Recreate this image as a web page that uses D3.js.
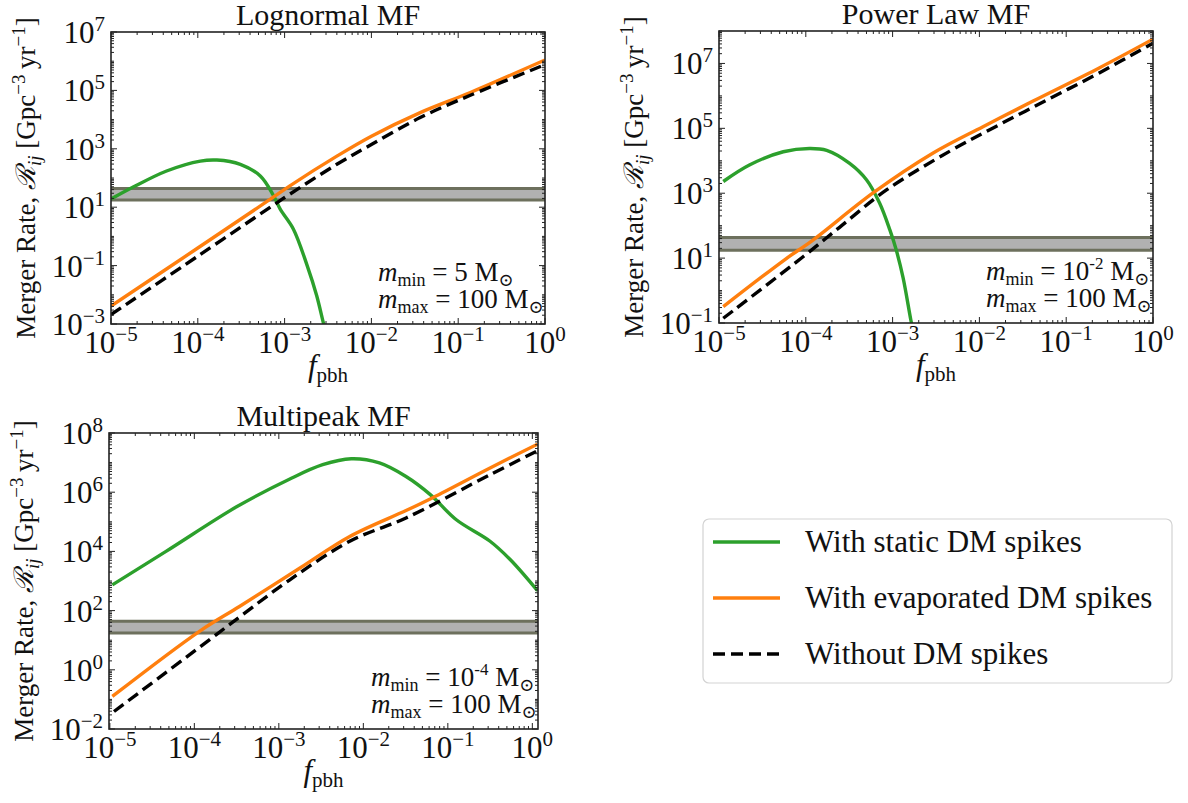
<!DOCTYPE html>
<html>
<head>
<meta charset="utf-8">
<script src="https://cdn.jsdelivr.net/npm/d3@7"></script>
<style>
  body { margin: 0; background: #fff; }
  svg { display: block; }
</style>
</head>
<body>
<div id="chart"></div>
<script>
// ---- data ----
// band of the observed merger rate (same in every panel)
var bandRange = [17.5, 43.5];

// Lognormal MF
var lognormalGreenF = [1e-5, 1.78e-5, 4.37e-5, 1.07e-4, 1.66e-4, 3.09e-4, 5.25e-4, 7.4e-4, 8.9e-4, 1.26e-3, 1.82e-3, 2.34e-3, 2.82e-3, 3.2e-3];
var lognormalGreenR = [19, 48, 174, 380, 412, 295, 117, 26, 8.6, 1.8, 0.1, 9.5e-3, 1e-3, 2.5e-4];
var lognormalLineF = [1e-5, 1e-4, 7.4e-4, 1.15e-3, 4.0e-3, 1e-2, 3.6e-2, 0.138, 1];
var lognormalOrangeR = [4.1e-3, 0.40, 22, 54, 560, 2700, 1.7e4, 8.5e4, 1.1e6];
var lognormalBlackR = [2.1e-3, 0.21, 11.7, 28, 295, 1400, 1.15e4, 6.8e4, 7.6e5];

// Power Law MF
var powerGreenF = [1.12e-5, 2.24e-5, 5.5e-5, 1.1e-4, 1.74e-4, 3.2e-4, 5.0e-4, 7.1e-4, 9.3e-4, 1.1e-3, 1.32e-3, 1.62e-3, 1.74e-3];
var powerGreenR = [2300, 7400, 1.9e4, 2.4e4, 2.1e4, 8300, 2600, 490, 74, 18, 2.5, 0.126, 0.05];
var powerOrangeF = [1.12e-5, 5.7e-5, 1.21e-4, 5.9e-4, 2.9e-3, 1.1e-2, 4.1e-2, 0.243, 1];
var powerOrangeR = [0.32, 8.9, 36, 1000, 1.7e4, 1.12e5, 6.8e5, 7.4e6, 5.6e7];
var powerBlackF = [1.12e-5, 9.3e-5, 2.45e-4, 8.5e-4, 4.6e-3, 1.7e-2, 6.5e-2, 0.243, 1];
var powerBlackR = [0.14, 11, 89, 1260, 2.0e4, 1.3e5, 8.3e5, 5.2e6, 4.2e7];

// Multipeak MF
var multiGreenF = [1.07e-5, 4.57e-5, 3.16e-4, 1.35e-3, 3.3e-3, 7.2e-3, 1.55e-2, 3.2e-2, 6.2e-2, 0.126, 0.316, 0.55, 1.15];
var multiGreenR = [740, 9800, 3.2e5, 2.8e6, 8.5e6, 1.35e7, 9.8e6, 3.4e6, 8.3e5, 1.17e5, 2.2e4, 5200, 470];
var multiOrangeF = [1.07e-5, 1.15e-4, 3.42e-4, 1.78e-3, 6.9e-3, 3.2e-2, 6.8e-2, 0.316, 1.15];
var multiOrangeR = [0.126, 20, 138, 2750, 3.2e4, 2.4e5, 6.8e5, 6.6e6, 4.2e7];
var multiBlackF = [1.12e-5, 1.82e-4, 3.7e-4, 1.35e-3, 6.9e-3, 3.2e-2, 0.316, 1.15];
var multiBlackR = [0.039, 15.5, 72, 1100, 2.2e4, 1.35e5, 3.9e6, 2.5e7];

// tick exponents
var xTickExp = [-5, -4, -3, -2, -1, 0];
var lognormalYTickExp = [-3, -1, 1, 3, 5, 7];
var powerYTickExp = [-1, 1, 3, 5, 7];
var multiYTickExp = [-2, 0, 2, 4, 6, 8];

var legendLabels = ["With static DM spikes", "With evaporated DM spikes", "Without DM spikes"];

// ---- drawing ----
var font = "'Liberation Serif', 'DejaVu Serif', serif";
var green = "#2ca02c", orange = "#ff7f0e";

var svg = d3.select("#chart").append("svg")
  .attr("width", 1188)
  .attr("height", 803)
  .style("font-family", font);

function zip(xs, ys) {
  return xs.map(function(x, i) { return [x, ys[i]]; });
}

function expText(sel, e) {
  // "10" with a raised exponent
  sel.append("tspan").text("10");
  sel.append("tspan").attr("font-size", 21).attr("dy", -12)
    .text(e < 0 ? "\u2212" + (-e) : String(e));
}

var panels = [
  {id: "p1", title: "Lognormal MF", left: 111, top: 32, width: 434, height: 292,
   xDomain: [1e-5, 1], yDomain: [1e-3, 1e7], yTicks: lognormalYTickExp, mmin: ["5"],
   series: [
     {data: zip(lognormalGreenF, lognormalGreenR), color: green},
     {data: zip(lognormalLineF, lognormalOrangeR), color: orange},
     {data: zip(lognormalLineF, lognormalBlackR), color: "#000", dash: "12,6"}
   ]},
  {id: "p2", title: "Power Law MF", left: 719, top: 31, width: 434, height: 292,
   xDomain: [1e-5, 1], yDomain: [1e-1, 1e8], yTicks: powerYTickExp, mmin: ["10", "-2"],
   series: [
     {data: zip(powerGreenF, powerGreenR), color: green},
     {data: zip(powerOrangeF, powerOrangeR), color: orange},
     {data: zip(powerBlackF, powerBlackR), color: "#000", dash: "12,6"}
   ]},
  {id: "p3", title: "Multipeak MF", left: 109, top: 433, width: 429, height: 296,
   xDomain: [Math.pow(10, -5.01), Math.pow(10, 0.067)], yDomain: [1e-2, 1e8], yTicks: multiYTickExp, mmin: ["10", "-4"],
   series: [
     {data: zip(multiGreenF, multiGreenR), color: green},
     {data: zip(multiOrangeF, multiOrangeR), color: orange},
     {data: zip(multiBlackF, multiBlackR), color: "#000", dash: "12,6"}
   ]}
];

panels.forEach(function(p) {
  var g = svg.append("g").attr("transform", "translate(" + p.left + "," + p.top + ")");
  var x = d3.scaleLog().domain(p.xDomain).range([0, p.width]);
  var y = d3.scaleLog().domain(p.yDomain).range([p.height, 0]);

  g.append("clipPath").attr("id", "clip-" + p.id)
    .append("rect").attr("width", p.width).attr("height", p.height);

  var plot = g.append("g").attr("clip-path", "url(#clip-" + p.id + ")");

  // observed-rate band
  plot.append("rect")
    .attr("x", 0).attr("width", p.width)
    .attr("y", y(bandRange[1])).attr("height", y(bandRange[0]) - y(bandRange[1]))
    .attr("fill", "#b1b1b1");
  bandRange.forEach(function(v) {
    plot.append("line")
      .attr("x1", 0).attr("x2", p.width)
      .attr("y1", y(v)).attr("y2", y(v))
      .attr("stroke", "#6d705d").attr("stroke-width", 3);
  });

  var line = d3.line()
    .x(function(d) { return x(d[0]); })
    .y(function(d) { return y(d[1]); })
    .curve(d3.curveCatmullRom.alpha(0.5));

  p.series.forEach(function(s) {
    plot.append("path")
      .attr("d", line(s.data))
      .attr("fill", "none")
      .attr("stroke", s.color)
      .attr("stroke-width", 3.4)
      .attr("stroke-dasharray", s.dash || null);
  });

  // ticks, pointing inward on all four sides
  var xMajor = xTickExp.map(function(e) { return Math.pow(10, e); });
  var xMinor = [];
  d3.range(-6, 1).forEach(function(e) {
    d3.range(2, 10).forEach(function(k) {
      var v = k * Math.pow(10, e);
      if (v >= p.xDomain[0] && v <= p.xDomain[1]) xMinor.push(v);
    });
  });
  var yMajor = p.yTicks.map(function(e) { return Math.pow(10, e); });
  var yMinor = [];
  d3.range(-3, 9).forEach(function(e) {
    d3.range(1, 10).forEach(function(k) {
      if (k === 1 && p.yTicks.indexOf(e) >= 0) return;
      var v = k * Math.pow(10, e);
      if (v >= p.yDomain[0] * 0.999 && v <= p.yDomain[1] * 1.001) yMinor.push(v);
    });
  });

  var tk = g.append("g").attr("stroke", "#222");
  function xt(vals, len) {
    vals.forEach(function(v) {
      var px = x(v);
      tk.append("line").attr("x1", px).attr("x2", px).attr("y1", p.height).attr("y2", p.height - len).attr("stroke-width", 1);
      tk.append("line").attr("x1", px).attr("x2", px).attr("y1", 0).attr("y2", len).attr("stroke-width", 1);
    });
  }
  function yt(vals, len) {
    vals.forEach(function(v) {
      var py = y(v);
      tk.append("line").attr("y1", py).attr("y2", py).attr("x1", 0).attr("x2", len).attr("stroke-width", 1);
      tk.append("line").attr("y1", py).attr("y2", py).attr("x1", p.width).attr("x2", p.width - len).attr("stroke-width", 1);
    });
  }
  xt(xMajor, 6); xt(xMinor, 3);
  yt(yMajor, 6); yt(yMinor, 3);

  g.append("rect")
    .attr("width", p.width).attr("height", p.height)
    .attr("fill", "none").attr("stroke", "#222").attr("stroke-width", 1.6);

  // tick labels
  xTickExp.forEach(function(e) {
    var t = g.append("text")
      .attr("x", x(Math.pow(10, e)))
      .attr("y", p.height + 29)
      .attr("text-anchor", "middle")
      .attr("font-size", 31)
      .attr("fill", "#111");
    expText(t, e);
  });
  p.yTicks.forEach(function(e) {
    var t = g.append("text")
      .attr("x", -6)
      .attr("y", y(Math.pow(10, e)) + 11)
      .attr("text-anchor", "end")
      .attr("font-size", 31)
      .attr("fill", "#111");
    expText(t, e);
  });

  // title
  g.append("text")
    .attr("x", p.width / 2).attr("y", -7)
    .attr("text-anchor", "middle")
    .attr("font-size", 30)
    .attr("fill", "#111")
    .text(p.title);

  // x label
  var xl = g.append("text")
    .attr("x", p.width / 2).attr("y", p.height + 52)
    .attr("text-anchor", "middle")
    .attr("font-size", 31)
    .attr("fill", "#111");
  xl.append("tspan").attr("font-style", "italic").text("f");
  xl.append("tspan").attr("font-size", 21).attr("dy", 6).text("pbh");

  // y label
  var yl = g.append("text")
    .attr("transform", "translate(-76," + (p.height / 2) + ") rotate(-90)")
    .attr("text-anchor", "middle")
    .attr("font-size", 27)
    .attr("fill", "#111");
  yl.append("tspan").text("Merger Rate, ");
  yl.append("tspan").attr("font-style", "italic").text("\u211B");
  yl.append("tspan").attr("font-style", "italic").attr("font-size", 19).attr("dy", 6).text("ij");
  yl.append("tspan").attr("dy", -6).text(" [Gpc");
  yl.append("tspan").attr("font-size", 19).attr("dy", -10).text("\u22123");
  yl.append("tspan").attr("dy", 10).text("\u2009yr");
  yl.append("tspan").attr("font-size", 19).attr("dy", -10).text("\u22121");
  yl.append("tspan").attr("dy", 10).text("]");

  // mass range note
  var ax = p.width - 167;
  var l1 = g.append("text").attr("x", ax).attr("y", p.height - 43)
    .attr("font-size", 27).attr("fill", "#111");
  l1.append("tspan").attr("font-style", "italic").text("m");
  l1.append("tspan").attr("font-size", 18).attr("dy", 5).text("min");
  if (p.mmin.length === 1) {
    l1.append("tspan").attr("dy", -5).text(" = " + p.mmin[0] + " M");
  } else {
    l1.append("tspan").attr("dy", -5).text(" = " + p.mmin[0]);
    l1.append("tspan").attr("font-size", 17).attr("dy", -11).text(p.mmin[1]);
    l1.append("tspan").attr("dy", 11).text(" M");
  }
  l1.append("tspan").attr("font-size", 18).attr("dy", 5).text("\u2299");

  var l2 = g.append("text").attr("x", ax).attr("y", p.height - 16)
    .attr("font-size", 27).attr("fill", "#111");
  l2.append("tspan").attr("font-style", "italic").text("m");
  l2.append("tspan").attr("font-size", 18).attr("dy", 5).text("max");
  l2.append("tspan").attr("dy", -5).text(" = 100 M");
  l2.append("tspan").attr("font-size", 18).attr("dy", 5).text("\u2299");
});

// legend
var lg = svg.append("g").attr("transform", "translate(703,519)");
lg.append("rect")
  .attr("width", 469).attr("height", 164).attr("rx", 6)
  .attr("fill", "#fff").attr("stroke", "#d3d3d3").attr("stroke-width", 1.2);
var legendStyles = [{color: green}, {color: orange}, {color: "#000", dash: "12,6"}];
legendLabels.forEach(function(label, i) {
  var yy = 23 + i * 56;
  lg.append("line")
    .attr("x1", 10).attr("x2", 77).attr("y1", yy).attr("y2", yy)
    .attr("stroke", legendStyles[i].color).attr("stroke-width", 3.4)
    .attr("stroke-dasharray", legendStyles[i].dash || null);
  lg.append("text")
    .attr("x", 102).attr("y", yy + 10)
    .attr("font-size", 31)
    .attr("fill", "#111")
    .text(label);
});
</script>
</body>
</html>
